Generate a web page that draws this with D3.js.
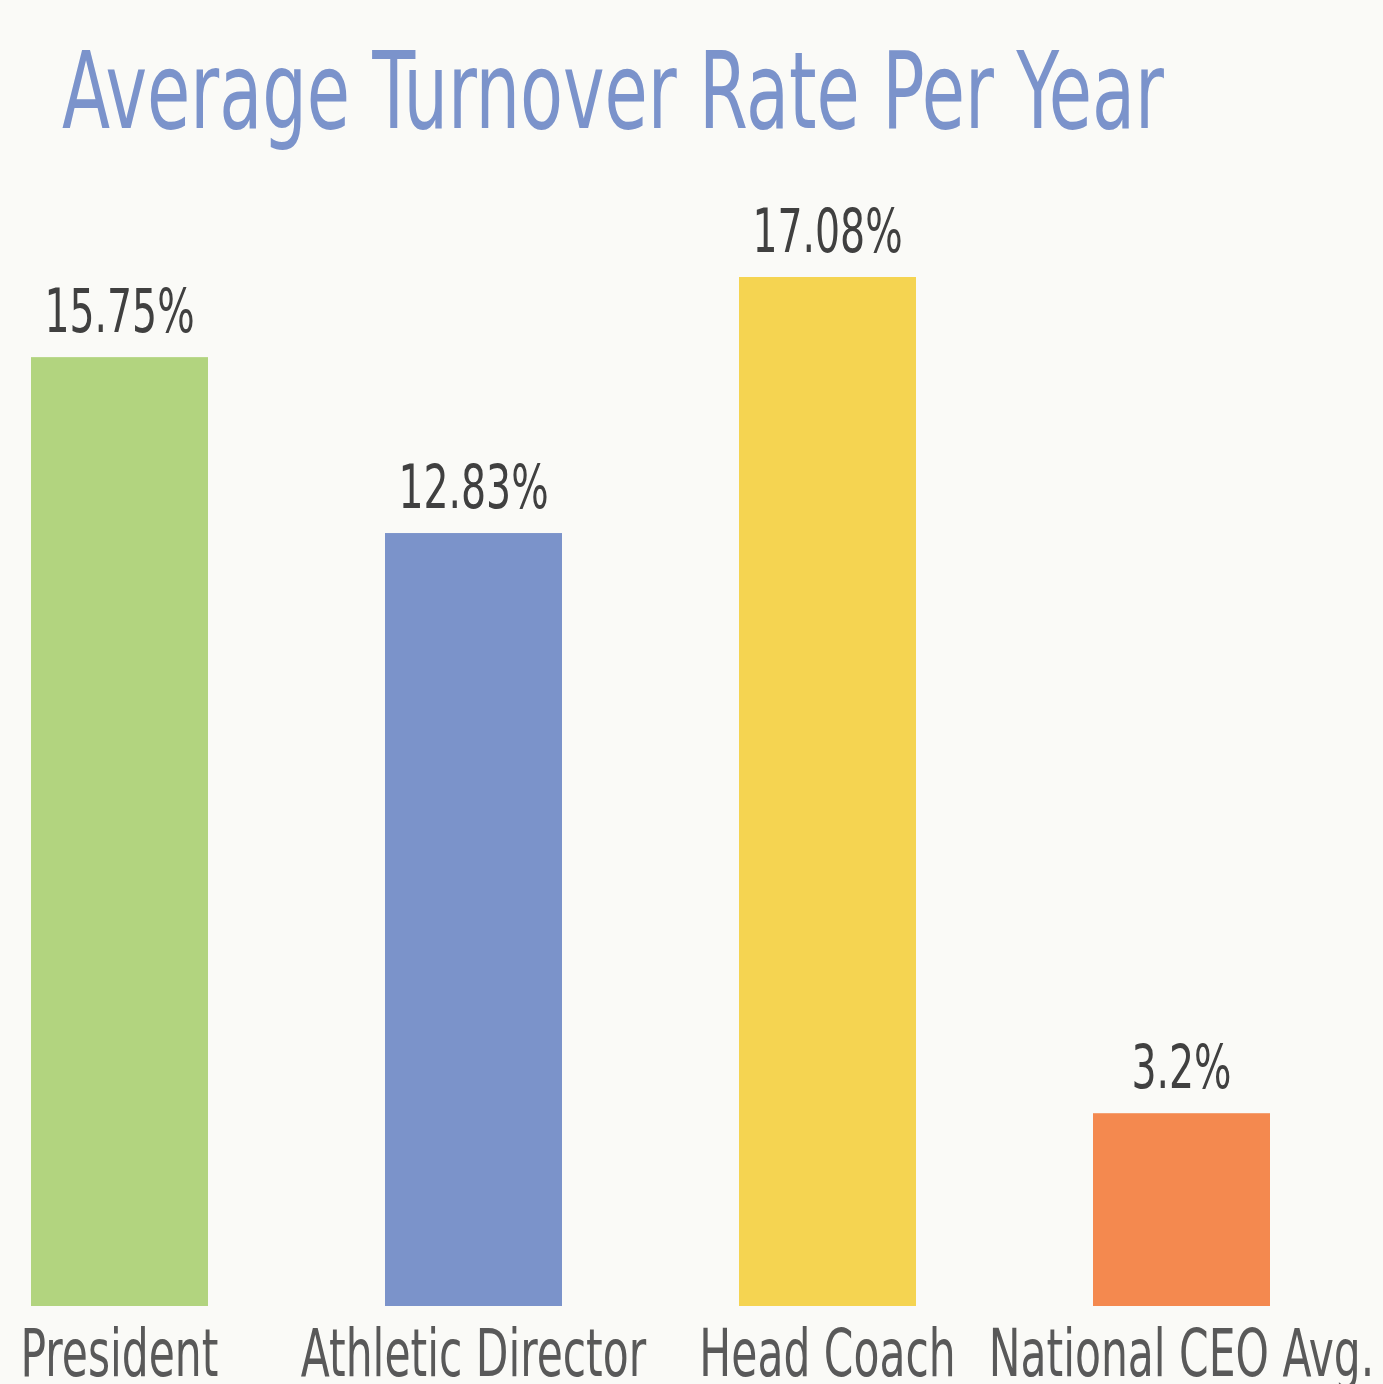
<!DOCTYPE html>
<html>
<head>
<meta charset="utf-8">
<script src="https://cdn.jsdelivr.net/npm/d3@7"></script>
<style>
  html, body { margin: 0; padding: 0; background: #fafaf7; }
  svg { display: block; }
  text { font-family: "Liberation Sans Narrow", "DejaVu Sans Condensed", sans-serif; }
</style>
</head>
<body>
<svg id="chart" width="1383" height="1384"></svg>
<script>
// data
var categories = ["President", "Athletic Director", "Head Coach", "National CEO Avg."];
var values = [15.75, 12.83, 17.08, 3.2];
var valueLabels = ["15.75%", "12.83%", "17.08%", "3.2%"];
var barColors = ["#b2d47f", "#7b93ca", "#f5d451", "#f4894f"];
var titleText = "Average Turnover Rate Per Year";

var width = 1383, height = 1384;
var baseY = 1306;   // bar bottoms
var svg = d3.select("#chart");

svg.append("rect").attr("width", width).attr("height", height).attr("fill", "#fafaf7");

var x = d3.scaleBand()
  .domain(categories)
  .range([31, 1270])
  .paddingInner(0.5)
  .paddingOuter(0);

var y = d3.scaleLinear()
  .domain([0, 17.08])
  .range([baseY, 277]);

// narrow font is still too wide -> squeeze horizontally
function place(tx, ty, k) {
  return "translate(" + tx + "," + ty + ") scale(" + k + ",1)";
}

// title
svg.append("text")
  .attr("transform", place(62, 128, 0.73))
  .attr("fill", "#7b93cb")
  .attr("font-size", 107)
  .text(titleText);

// bars
svg.selectAll(".bar")
  .data(values)
  .enter().append("rect")
  .attr("class", "bar")
  .attr("x", function(d, i) { return x(categories[i]); })
  .attr("width", x.bandwidth())
  .attr("y", function(d) { return y(d); })
  .attr("height", function(d) { return baseY - y(d); })
  .attr("fill", function(d, i) { return barColors[i]; });

// value labels
svg.selectAll(".val")
  .data(values)
  .enter().append("text")
  .attr("class", "val")
  .attr("transform", function(d, i) {
    return place(x(categories[i]) + x.bandwidth() / 2, y(d) - 25, 0.73);
  })
  .attr("text-anchor", "middle")
  .attr("fill", "#404040")
  .attr("font-size", 60)
  .text(function(d, i) { return valueLabels[i]; });

// category labels
svg.selectAll(".cat")
  .data(categories)
  .enter().append("text")
  .attr("class", "cat")
  .attr("transform", function(d) { return place(x(d) + x.bandwidth() / 2, 1376, 0.715); })
  .attr("text-anchor", "middle")
  .attr("fill", "#595959")
  .attr("font-size", 66)
  .text(function(d) { return d; });
</script>
</body>
</html>
